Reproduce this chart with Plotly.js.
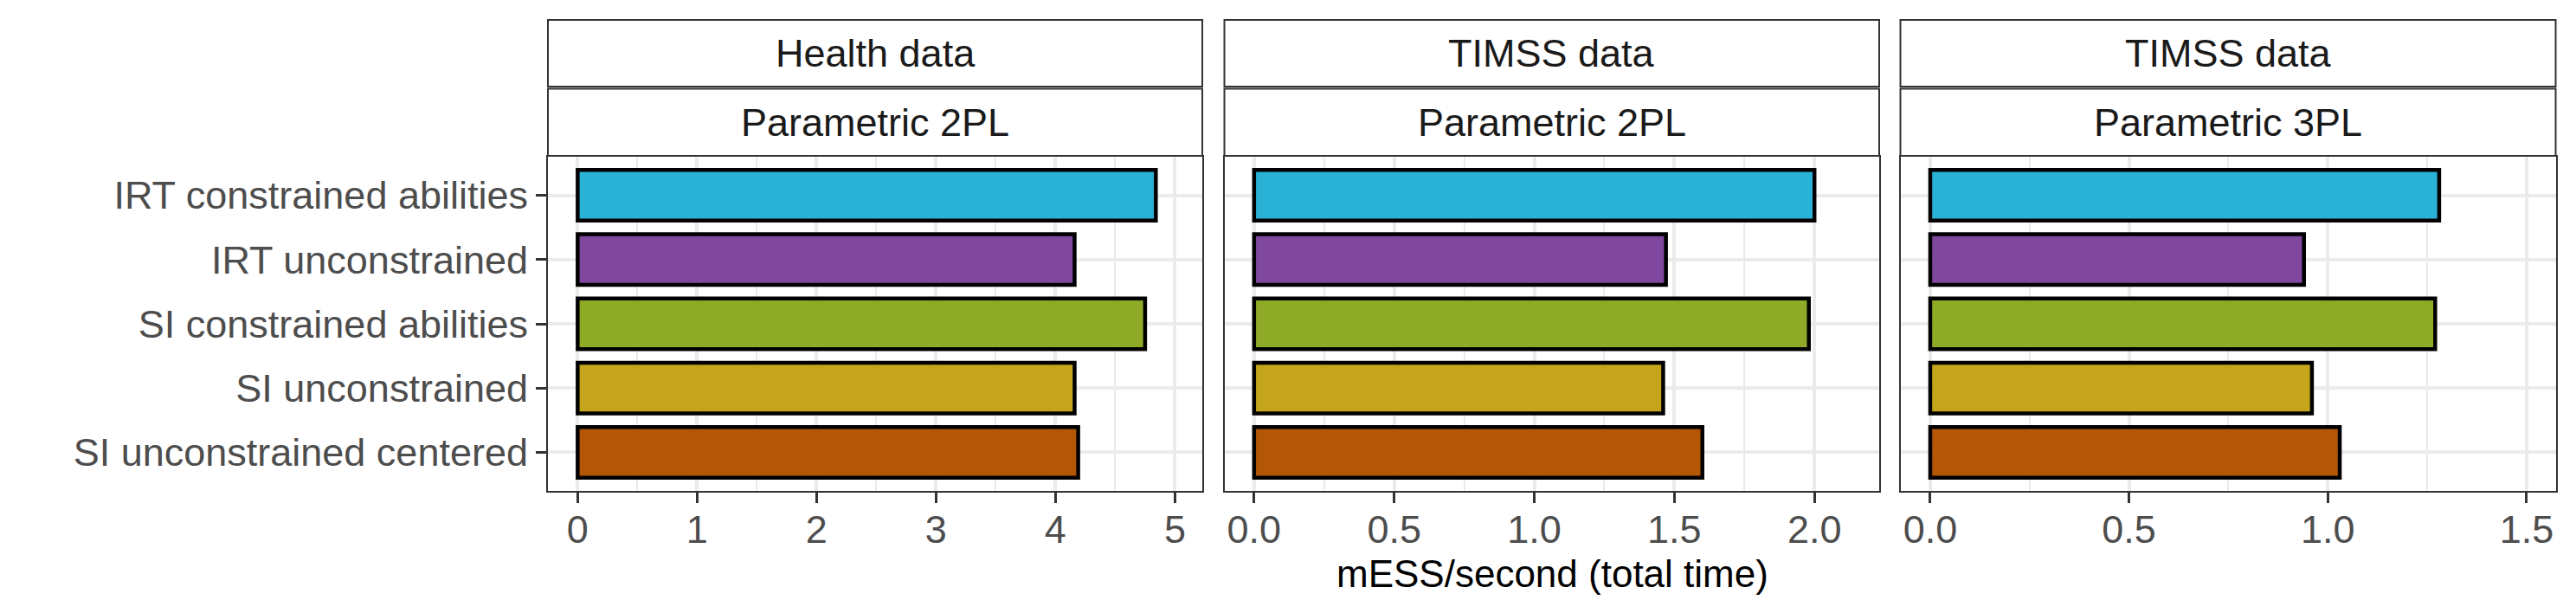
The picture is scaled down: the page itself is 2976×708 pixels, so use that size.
<!DOCTYPE html>
<html>
<head>
<meta charset="utf-8">
<script src="https://cdn.plot.ly/plotly-3.0.1.min.js"></script>
<style>
  html, body { margin: 0; padding: 0; background: white; }
</style>
</head>
<body>
<div id="mess-plot"></div>
<script>
// sampler variants, top to bottom
const methods = [
    'IRT constrained abilities',
    'IRT unconstrained',
    'SI constrained abilities',
    'SI unconstrained',
    'SI unconstrained centered'
];
const methodColors = ['#29B1D6', '#7F479D', '#8FAA27', '#C5A51B', '#B35606'];

// mESS/second (total time), one array per panel
const healthPl2 = [4.84, 4.16, 4.75, 4.16, 4.19];
const timssPl2 = [2.00, 1.47, 1.98, 1.46, 1.60];
const timssPl3 = [1.28, 0.94, 1.27, 0.96, 1.03];

const stripData = ['Health data', 'TIMSS data', 'TIMSS data'];
const stripModel = ['Parametric 2PL', 'Parametric 2PL', 'Parametric 3PL'];

function mESSPlot() {
    const W = 2976, H = 708;
    const px = v => v / W;
    const py = v => 1 - v / H;

    const panels = [
        {vals: healthPl2, dom: [633, 1389], range: [-0.249, 5.229], dtick: 1, minor: 0.5, fmt: 'd'},
        {vals: timssPl2, dom: [1414.5, 2171], range: [-0.106, 2.231], dtick: 0.5, minor: 0.25, fmt: '.1f'},
        {vals: timssPl3, dom: [2195.5, 2952.5], range: [-0.075, 1.573], dtick: 0.5, minor: 0.25, fmt: '.1f'}
    ];

    const panelTop = 181, panelBottom = 567;

    const data = panels.map((p, i) => ({
        type: 'bar',
        orientation: 'h',
        y: methods,
        x: p.vals,
        width: 0.79,
        xaxis: i === 0 ? 'x' : 'x' + (i + 1),
        yaxis: i === 0 ? 'y' : 'y' + (i + 1),
        marker: {
            color: methodColors,
            line: {color: 'black', width: 4.5}
        },
        hoverinfo: 'skip',
        showlegend: false
    }));

    const layout = {
        width: W,
        height: H,
        margin: {l: 0, r: 0, t: 0, b: 0},
        paper_bgcolor: 'white',
        plot_bgcolor: 'white',
        font: {family: 'Liberation Sans, Arial, sans-serif'},
        shapes: [],
        annotations: []
    };

    panels.forEach((p, i) => {
        const sfx = i === 0 ? '' : String(i + 1);
        layout['xaxis' + sfx] = {
            domain: [px(p.dom[0]), px(p.dom[1])],
            anchor: 'y' + sfx,
            range: p.range,
            dtick: p.dtick,
            tick0: 0,
            tickformat: p.fmt,
            ticks: 'outside',
            ticklen: 12,
            tickwidth: 3,
            tickcolor: '#333333',
            ticklabelstandoff: -8,
            tickfont: {size: 45, color: '#4D4D4D'},
            showgrid: true,
            gridcolor: '#EBEBEB',
            gridwidth: 4,
            minor: {dtick: p.minor, tick0: 0, showgrid: true, gridcolor: '#EBEBEB', gridwidth: 2, ticks: ''},
            zeroline: false,
            showline: true,
            mirror: true,
            linecolor: '#333333',
            linewidth: 2,
            fixedrange: true
        };
        layout['yaxis' + sfx] = {
            domain: [py(panelBottom), py(panelTop)],
            anchor: 'x' + sfx,
            type: 'category',
            categoryorder: 'array',
            categoryarray: methods,
            range: [4.6, -0.6],
            ticks: i === 0 ? 'outside' : '',
            ticklen: 12,
            tickwidth: 3,
            tickcolor: '#333333',
            showticklabels: i === 0,
            tickfont: {size: 45, color: '#4D4D4D'},
            showgrid: true,
            gridcolor: '#EBEBEB',
            gridwidth: 4,
            zeroline: false,
            showline: true,
            mirror: true,
            linecolor: '#333333',
            linewidth: 2,
            fixedrange: true
        };

        // two stacked facet strips above each panel
        const strips = [[23, 100, stripData[i]], [102.5, 180, stripModel[i]]];
        strips.forEach(s => {
            layout.shapes.push({
                type: 'rect', xref: 'paper', yref: 'paper',
                x0: px(p.dom[0]), x1: px(p.dom[1]), y0: py(s[1]), y1: py(s[0]),
                line: {color: '#333333', width: 2},
                fillcolor: 'white'
            });
            layout.annotations.push({
                text: s[2],
                showarrow: false,
                xref: 'paper', yref: 'paper',
                x: px((p.dom[0] + p.dom[1]) / 2),
                y: py((s[0] + s[1]) / 2),
                xanchor: 'center', yanchor: 'middle',
                font: {size: 45, color: '#1A1A1A'}
            });
        });
    });

    layout.annotations.push({
        text: 'mESS/second (total time)',
        showarrow: false,
        xref: 'paper', yref: 'paper',
        x: px(1793),
        y: py(662),
        xanchor: 'center', yanchor: 'middle',
        font: {size: 44, color: 'black'}
    });

    Plotly.newPlot('mess-plot', data, layout, {staticPlot: true});
}

mESSPlot();
</script>
</body>
</html>
